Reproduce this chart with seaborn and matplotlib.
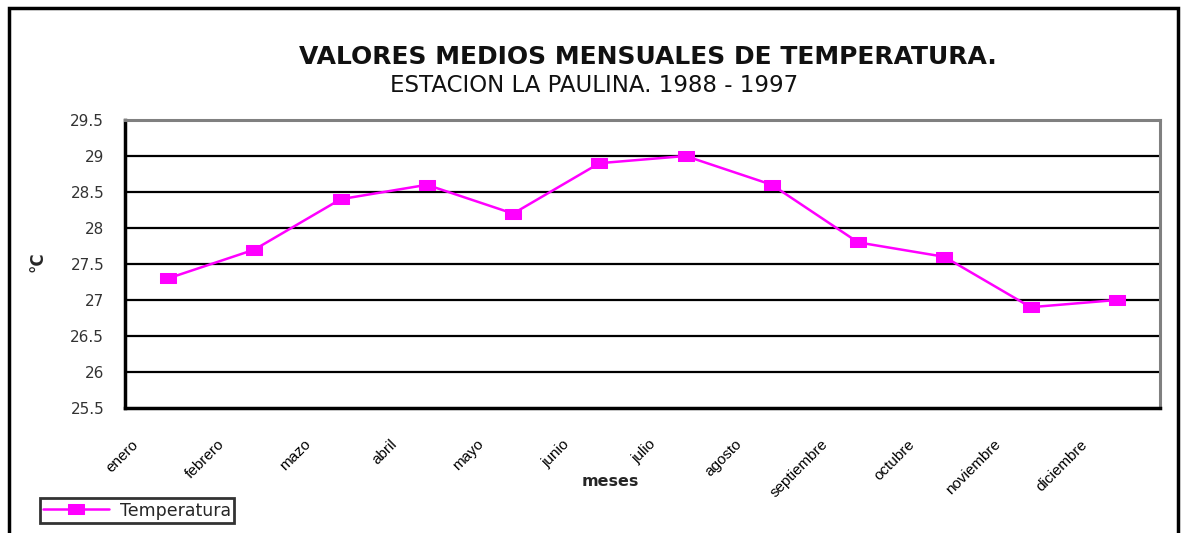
import numpy as np
import pandas as pd
import matplotlib
matplotlib.use('Agg')
import matplotlib.pyplot as plt
import seaborn as sns
from matplotlib.patches import Rectangle

# ── Datos ──────────────────────────────────────────────────────────────────
meses = ['enero', 'febrero', 'mazo', 'abril', 'mayo', 'junio', 'julio',
         'agosto', 'septiembre', 'octubre', 'noviembre', 'diciembre']
temperatura = [27.3, 27.7, 28.4, 28.6, 28.2, 28.9, 29.0, 28.6, 27.8, 27.6, 26.9, 27.0]
y_ticks = [25.5, 26, 26.5, 27, 27.5, 28, 28.5, 29, 29.5]
y_labels = ['25.5', '26', '26.5', '27', '27.5', '28', '28.5', '29', '29.5']

df = pd.DataFrame({'pos': np.arange(len(meses)), 'Temperatura': temperatura})

sns.set_style('white')
plt.rcParams['font.family'] = ['DejaVu Sans']

fig = plt.figure(figsize=(11.81, 5.33), dpi=100)
ax = fig.add_axes([125 / 1181, 1 - 408 / 533, (1160 - 125) / 1181, (408 - 120) / 533])

# gridlines
for v in y_ticks[1:-1]:
    ax.axhline(v, color='black', lw=1.6, zorder=1)

# marcador rectangular (más ancho que alto, como en Excel)
rect_marker = [(-1, -0.62), (1, -0.62), (1, 0.62), (-1, 0.62), (-1, -0.62)]
sns.lineplot(data=df, x='pos', y='Temperatura', ax=ax, color='#FF00FF',
             marker=rect_marker, markersize=11, markeredgecolor='#FF00FF',
             linewidth=1.8, label='Temperatura', zorder=3)

ax.set_xlim(-0.5, len(meses) - 0.5)
ax.set_ylim(25.5, 29.5)
ax.set_yticks(y_ticks)
ax.set_yticklabels(y_labels, fontsize=11, color='#333333')

# major ticks = category boundaries (no labels); minor ticks carry the labels,
# placed just right of the left boundary like the Excel export
ax.set_xticks(np.arange(len(meses) + 1) - 0.5)
ax.set_xticklabels([])
ax.set_xticks(np.arange(len(meses)) - 0.43, minor=True)
ax.set_xticklabels(meses, minor=True, rotation=45, ha='right', va='top',
                   rotation_mode='anchor', fontsize=11, color='black',
                   family=['Liberation Sans Narrow', 'Liberation Sans'])

ax.tick_params(axis='both', which='major', direction='out', length=6, width=2,
               color='black', pad=9)
ax.tick_params(axis='x', which='major', length=5)
ax.tick_params(axis='x', which='minor', length=0, pad=21)

for s in ['left', 'bottom']:
    ax.spines[s].set_color('black')
    ax.spines[s].set_linewidth(2.5)
for s in ['top', 'right']:
    ax.spines[s].set_color('#808080')
    ax.spines[s].set_linewidth(2.2)

ax.set_xlabel('')
ax.set_ylabel('')
ax.get_legend().remove()

# textos
fig.text(648 / 1181, 1 - 57 / 533, 'VALORES MEDIOS MENSUALES DE TEMPERATURA.',
         ha='center', va='center', fontsize=18, fontweight='bold', color='#111111')
fig.text(594 / 1181, 1 - 86 / 533, 'ESTACION LA PAULINA. 1988 - 1997',
         ha='center', va='center', fontsize=16.5, color='#111111')
fig.text(38 / 1181, 1 - 262 / 533, '°C', rotation=90, ha='center', va='center',
         fontsize=12, fontweight='bold')
fig.text(610 / 1181, 1 - 482 / 533, 'meses', ha='center', va='center',
         fontsize=11.5, fontweight='bold')

# leyenda
h, l = ax.get_legend_handles_labels()
leg = fig.legend(h, l, loc='lower left', bbox_to_anchor=(40 / 1181, 1 - 523 / 533),
                 frameon=True, fancybox=False, fontsize=12.5, handlelength=3.8,
                 borderpad=0.2, handletextpad=0.6, borderaxespad=0)
leg.get_frame().set_edgecolor('black')
leg.get_frame().set_linewidth(2)

# marco exterior
fig.patches.append(Rectangle((9 / 1181, -0.02), (1178 - 9) / 1181, 1 - 8 / 533 + 0.02,
                             transform=fig.transFigure, fill=False,
                             edgecolor='black', linewidth=2.5))

plt.savefig('out.png', dpi=100)
plt.close()
